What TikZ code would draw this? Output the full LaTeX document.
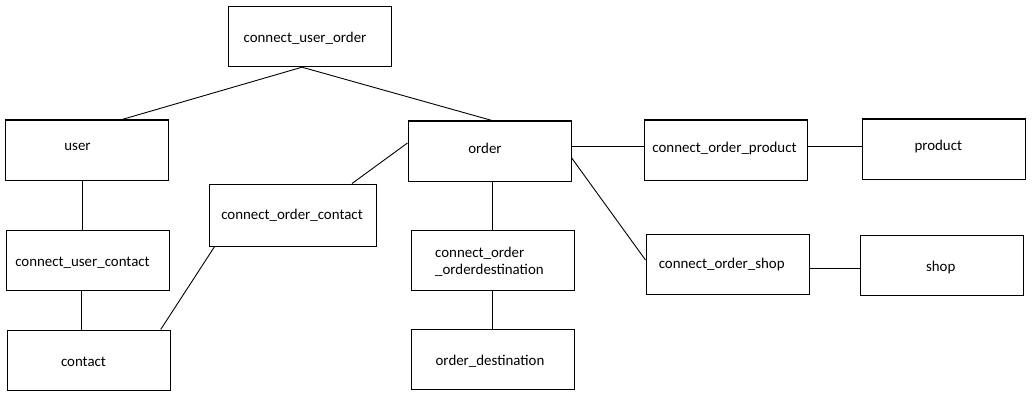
\documentclass[tikz,border=0pt]{standalone}
\usepackage{fontspec}
\setmainfont{Carlito}
\begin{document}
\begin{tikzpicture}[x=1pt,y=-1pt,
  box/.style={draw, line width=1.2pt, minimum width=163pt, minimum height=60pt,
              inner sep=0pt, anchor=north west},
  lbl/.style={inner sep=0pt, anchor=mid, yshift=-3pt, font=\fontsize{14.9}{17.6}\selectfont},
  link/.style={line width=0.9pt}]
\useasboundingbox[fill=white] (0,0) rectangle (1036,401);

% entity and relation boxes
\node[box] (cuo)     at (227.5,6)    {};
\node[box] (user)    at (4.5,119.5)  {};
\node[box] (order)   at (407.5,120.5) {};
\node[box] (cop)     at (643.5,119.5) {};
\node[box] (product) at (861.5,118.5) {};
\node[box, minimum width=167pt, minimum height=62pt] (coc) at (208.5,183.5) {};
\node[box] (cuc)     at (5.5,229.5)  {};
\node[box] (cood)    at (410.5,229.5) {};
\node[box] (cos)     at (645.5,233.5) {};
\node[box] (shop)    at (859.5,234.5) {};
\node[box] (contact) at (6.5,329.5)  {};
\node[box] (od)      at (410.5,328.5) {};

% box captions
\node[lbl] (tcuo)     at (305,37)      {connect\_user\_order};
\node[lbl] (tuser)    at (77.5,145)    {user};
\node[lbl] (torder)   at (485,148)     {order};
\node[lbl] (tcop)     at (724.5,147.5) {connect\_order\_product};
\node[lbl] (tproduct) at (938.3,145)   {product};
\node[lbl] (tcoc)     at (292,214)     {connect\_order\_contact};
\node[lbl] (tcuc)     at (82.5,261.5)  {connect\_user\_contact};
\node[lbl, anchor=mid west] (tcood1) at (435,251.7) {connect\_order};
\node[lbl, anchor=mid west] (tcood2) at (435,269.3) {\_orderdestination};
\node[lbl] (tcos)     at (721.7,262.7) {connect\_order\_shop};
\node[lbl] (tshop)    at (940.7,266)   {shop};
\node[lbl] (tcontact) at (83.5,360.7)  {contact};
\node[lbl] (tod)      at (490,360)     {order\_destination};

% connectors
\draw[link] ([xshift=74.5pt]cuo.south west) -- ([xshift=117.5pt]user.north west);
\draw[link] ([xshift=74.5pt]cuo.south west) -- ([xshift=84.5pt]order.north west);
\draw[link] ([xshift=78pt]user.south west) -- ([xshift=77pt]cuc.north west);
\draw[link] ([xshift=76pt]cuc.south west) -- ([xshift=75pt]contact.north west);
\draw[link] ([yshift=-22.5pt]order.north west) -- ([xshift=143.5pt]coc.north west);
\draw[link] ([xshift=6pt]coc.south west) -- ([xshift=-10pt]contact.north east);
\draw[link] ([yshift=-25.5pt]order.north east) -- ([yshift=-26.5pt]cop.north west);
\draw[link] ([yshift=-26.5pt]cop.north east) -- ([yshift=-27.5pt]product.north west);
\draw[link] ([yshift=-37.5pt]order.north east) -- ([yshift=-26.5pt]cos.north west);
\draw[link] ([yshift=-34.5pt]cos.north east) -- ([yshift=-33.5pt]shop.north west);
\draw[link] ([xshift=84.5pt]order.south west) -- ([xshift=81.5pt]cood.north west);
\draw[link] ([xshift=81.5pt]cood.south west) -- ([xshift=81.5pt]od.north west);
\end{tikzpicture}
\end{document}
